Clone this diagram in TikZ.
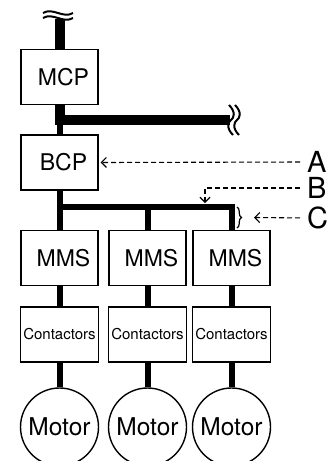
\documentclass[tikz,border=0pt]{standalone}
\usepackage{fontspec}
\setmainfont{TeX Gyre Heros}
\usetikzlibrary{arrows.meta,positioning,calc,decorations.pathreplacing}

\begin{document}
\begin{tikzpicture}[x=1pt, y=-1pt,
    box/.style={draw, line width=1.4pt, minimum width=77pt, minimum height=55pt,
      inner sep=0pt, font=\fontsize{23}{27}\selectfont,
      execute at begin node={\kern8pt}},
    conbox/.style={draw, line width=1.4pt, minimum width=78pt, minimum height=55pt,
      inner sep=0pt, font=\fontsize{15}{18}\selectfont},
    motor/.style={circle, draw, line width=1.4pt, minimum size=78pt, inner sep=0pt,
      font=\fontsize{24.5}{28}\selectfont},
    letter/.style={anchor=west, inner sep=0pt, text height=21pt, text depth=0pt,
      font=\fontsize{29}{34}\selectfont},
    feed/.style={line width=6pt},
    bus/.style={line width=10pt, line join=miter},
    wave/.style={line width=2pt},
    ptr/.style={line width=1.1pt, dash pattern=on 5pt off 3pt,
      -{Straight Barb[length=5pt, width=10pt]}}]
  \useasboundingbox (0,0) rectangle (333,461);

  % panels
  \node[box] (mcp) at (59.5,77) {MCP};
  \node[box] (bcp) at (59.5,162.5) {BCP};

  % starters, contactors and motors
  \foreach \col/\x in {1/59.5, 2/147.5, 3/231.5} {
    \node[box] (mms\col) at (\x,258) {MMS};
    \node[conbox] (con\col) at (\x,334.5) {Contactors};
    \node[motor] (mot\col) at (\x,427) {Motor};
    \draw[feed] (mms\col) -- (con\col);
    \draw[feed] (con\col) -- (mot\col);
  }

  % incoming supply with break mark
  \coordinate (top) at (59.5,19);
  \draw[bus] (top) -- (mcp.north);
  \draw[wave] (43,13) .. controls (53,7) and (63,19) .. (73,13);
  \draw[wave] (43,18) .. controls (53,12) and (63,24) .. (73,18);

  % main bus with break mark
  \coordinate (bus1) at (59.5,120);
  \coordinate (bus1end) at (230,120);
  \draw[bus] (mcp.south) -- (bus1) -- (bus1end);
  \draw[line width=6pt] (bus1) -- (bcp.north);
  \foreach \dx in {0,6} {
    \draw[wave] (229+\dx,105) .. controls (236+\dx,112) and (234+\dx,118) .. (231+\dx,120)
      .. controls (228+\dx,122) and (226+\dx,128) .. (233+\dx,135);
  }

  % branch bus
  \coordinate (bus2) at (59.5,207);
  \coordinate (bus2end) at (231.5,207);
  \draw[line width=6pt, line join=miter] (bcp.south) -- (bus2) -- (bus2end) -- (mms3.north);
  \draw[feed] (147.5,207) -- (mms2.north);
  \draw[feed] (bus2) -- (mms1.north);

  % callouts
  \node[letter] (lblA) at (307,162) {A};
  \node[letter] (lblB) at (307,188) {B};
  \node[letter] (lblC) at (307,218) {C};
  \coordinate (tapB) at (205,207);
  \draw[decorate, decoration={brace, amplitude=4.5pt}, line width=1.2pt]
    (237,207) -- (237,228) coordinate[midway] (brC);
  \draw[ptr, shorten <=7pt, shorten >=2pt] (lblA.west) -- (bcp.east);
  \draw[ptr, shorten <=7pt, shorten >=4pt] (lblB.west) -| (tapB);
  \draw[ptr, shorten <=7pt] (lblC.west) -- ([xshift=17pt]brC);
\end{tikzpicture}
\end{document}
